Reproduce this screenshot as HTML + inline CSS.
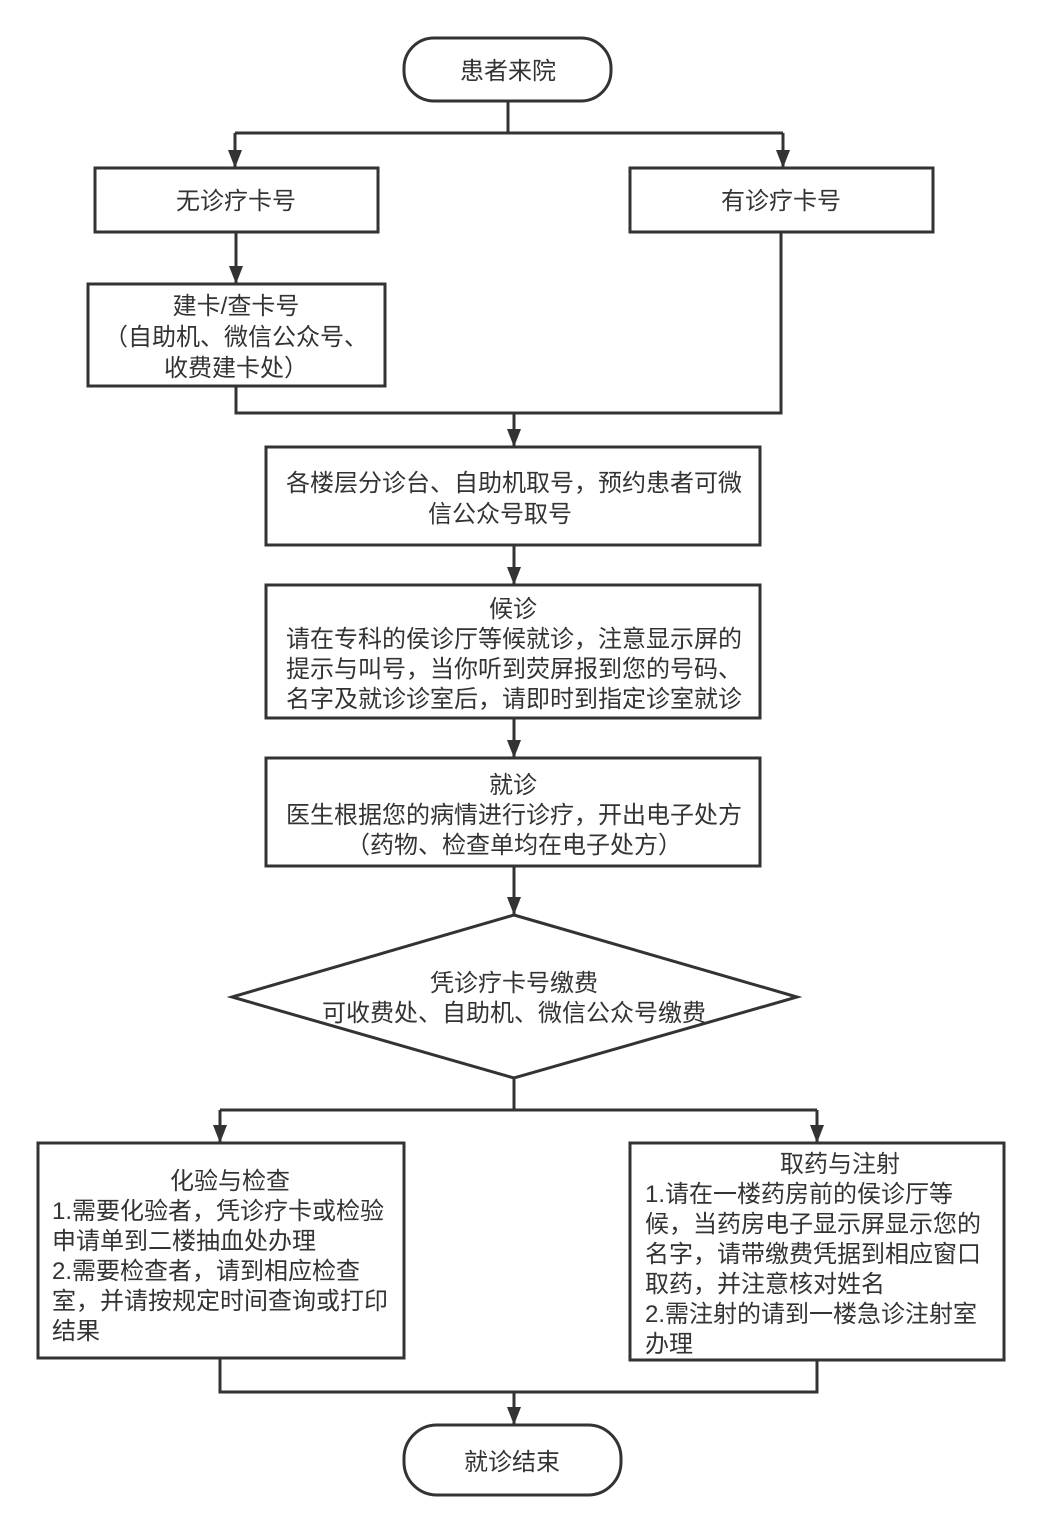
<!DOCTYPE html>
<html><head><meta charset="utf-8"><style>
html,body{margin:0;padding:0;background:#fff;}
svg{display:block;}
text{font-family:"Liberation Sans","Noto Sans CJK SC",sans-serif;font-size:24px;fill:#333;}
.c{text-anchor:middle;}
</style></head><body>
<svg width="1041" height="1531" viewBox="0 0 1041 1531" xmlns="http://www.w3.org/2000/svg">
<defs>
<marker id="b" markerWidth="14" markerHeight="18" refX="7" refY="18" orient="0" markerUnits="userSpaceOnUse"><path d="M0,0 L14,0 L7,18 Z" fill="#333"/></marker></defs>
<g fill="none" stroke="#333" stroke-width="3">
<rect x="404" y="38" width="207" height="63" rx="30" fill="#fff"/>
<path d="M508,101 V133 M235,133 H783"/>
<path d="M235,133 V168" marker-end="url(#b)"/>
<path d="M783,133 V168" marker-end="url(#b)"/>
<rect x="95" y="168" width="283" height="64"/>
<rect x="630" y="168" width="303" height="64"/>
<path d="M236,232 V284" marker-end="url(#b)"/>
<rect x="88" y="284" width="297" height="102"/>
<path d="M236,386 V413 H781 V232"/>
<path d="M514,413 V447" marker-end="url(#b)"/>
<rect x="266" y="447" width="494" height="98"/>
<path d="M514,545 V585" marker-end="url(#b)"/>
<rect x="266" y="585" width="494" height="133"/>
<path d="M514,718 V758" marker-end="url(#b)"/>
<rect x="266" y="758" width="494" height="108"/>
<path d="M514,866 V915" marker-end="url(#b)"/>
<polygon points="514,915 797,997 514,1078 232,997"/>
<path d="M514,1078 V1110 M220,1110 H817"/>
<path d="M220,1110 V1143" marker-end="url(#b)"/>
<path d="M817,1110 V1143" marker-end="url(#b)"/>
<rect x="38" y="1143" width="366" height="215"/>
<rect x="630" y="1143" width="374" height="217"/>
<path d="M220,1358 V1392 H817 V1360"/>
<path d="M514,1392 V1425" marker-end="url(#b)"/>
<rect x="404" y="1425" width="217" height="70" rx="33"/>
</g>
<text class="c" x="508" y="79">患者来院</text>
<text class="c" x="236" y="209">无诊疗卡号</text>
<text class="c" x="781" y="209">有诊疗卡号</text>
<text class="c" x="236" y="314">建卡/查卡号</text>
<text class="c" x="236" y="345">（自助机、微信公众号、</text>
<text class="c" x="236" y="376">收费建卡处）</text>
<text class="c" x="514" y="491">各楼层分诊台、自助机取号，预约患者可微</text>
<text class="c" x="500" y="522">信公众号取号</text>
<text class="c" x="513" y="617">候诊</text>
<text class="c" x="514" y="647">请在专科的侯诊厅等候就诊，注意显示屏的</text>
<text class="c" x="514" y="677">提示与叫号，当你听到荧屏报到您的号码、</text>
<text class="c" x="514" y="707">名字及就诊诊室后，请即时到指定诊室就诊</text>
<text class="c" x="513" y="793">就诊</text>
<text class="c" x="514" y="823">医生根据您的病情进行诊疗，开出电子处方</text>
<text class="c" x="514" y="853">（药物、检查单均在电子处方）</text>
<text class="c" x="514" y="991">凭诊疗卡号缴费</text>
<text class="c" x="514" y="1021">可收费处、自助机、微信公众号缴费</text>
<text class="c" x="230" y="1189">化验与检查</text>
<text x="52" y="1219">1.需要化验者，凭诊疗卡或检验</text>
<text x="52" y="1249">申请单到二楼抽血处办理</text>
<text x="52" y="1279">2.需要检查者，请到相应检查</text>
<text x="52" y="1309">室，并请按规定时间查询或打印</text>
<text x="52" y="1339">结果</text>
<text class="c" x="840" y="1172">取药与注射</text>
<text x="645" y="1202">1.请在一楼药房前的侯诊厅等</text>
<text x="645" y="1232">候，当药房电子显示屏显示您的</text>
<text x="645" y="1262">名字，请带缴费凭据到相应窗口</text>
<text x="645" y="1292">取药，并注意核对姓名</text>
<text x="645" y="1322">2.需注射的请到一楼急诊注射室</text>
<text x="645" y="1352">办理</text>
<text class="c" x="512" y="1470">就诊结束</text>
</svg>
</body></html>
